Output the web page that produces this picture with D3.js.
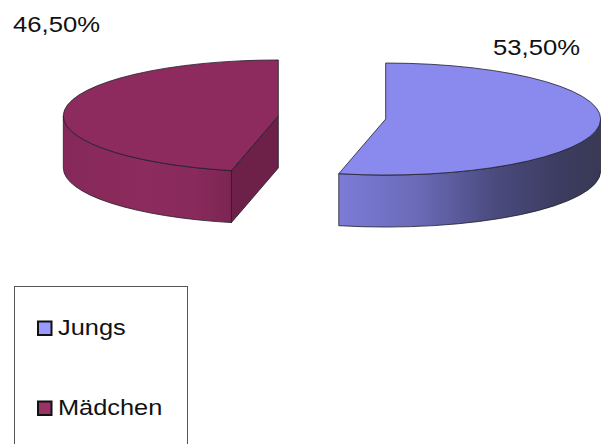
<!DOCTYPE html>
<html><head><meta charset="utf-8">
<script src="https://cdn.jsdelivr.net/npm/d3@7"></script>
<style>html,body{margin:0;padding:0;background:#fff;} svg{display:block;font-family:"Liberation Sans",Arial,sans-serif;}</style>
</head><body>
<script>
const categories = ["Jungs", "Mädchen"];
const values = [53.5, 46.5];
const labels = ["53,50%", "46,50%"];
const topColors = ["#8a8aee", "#8e2b5e"];
const legendColors = ["#9999ff", "#993366"];

const W = 601, H = 444;
const svg = d3.select("body").append("svg").attr("width", W).attr("height", H);
const defs = svg.append("defs");

const cx = 332, cy = 117.5, rx = 215, ry = 56, depth = 52, explode = 54;

const pie = d3.pie().sort(null).value(d => d)(values);

function pt(c, a, dy = 0) { return [c[0] + rx * Math.sin(a), c[1] - ry * Math.cos(a) + dy]; }

const g0 = defs.append("linearGradient").attr("id", "side0").attr("gradientUnits", "userSpaceOnUse")
  .attr("x1", 339).attr("x2", 600).attr("y1", 0).attr("y2", 0);
[[0, "#7c7cd8"], [0.3, "#6a6ab8"], [0.6, "#4a4a7e"], [0.85, "#3c3c60"], [1, "#393956"]]
  .forEach(s => g0.append("stop").attr("offset", s[0]).attr("stop-color", s[1]));
const g1 = defs.append("linearGradient").attr("id", "side1").attr("gradientUnits", "userSpaceOnUse")
  .attr("x1", 59).attr("x2", 231).attr("y1", 0).attr("y2", 0);
[[0, "#852858"], [0.5, "#8c2c5e"], [0.8, "#882a5b"], [1, "#7c2552"]]
  .forEach(s => g1.append("stop").attr("offset", s[0]).attr("stop-color", s[1]));
const sideFills = ["url(#side0)", "url(#side1)"];
const radFills = ["#3a3a5e", "#6e2148"];

const stroke = "#1e1e2a", sw = 0.8;
const chart = svg.append("g");

pie.forEach((d, i) => {
  const mid = (d.startAngle + d.endAngle) / 2;
  const c = [cx + explode * Math.sin(mid), cy - explode * Math.cos(mid) * ry / rx];
  const s = d.startAngle, e = d.endAngle;
  const g = chart.append("g");
  if (Math.sin(s) < 0) {
    const p = pt(c, s);
    g.append("path").attr("d", `M${c[0]},${c[1]}L${p[0]},${p[1]}L${p[0]},${p[1] + depth}L${c[0]},${c[1] + depth}Z`)
      .attr("fill", radFills[i]).attr("stroke", stroke).attr("stroke-width", sw);
  }
  if (Math.sin(e) > 0) {
    const p = pt(c, e);
    g.append("path").attr("d", `M${c[0]},${c[1]}L${p[0]},${p[1]}L${p[0]},${p[1] + depth}L${c[0]},${c[1] + depth}Z`)
      .attr("fill", radFills[i]).attr("stroke", stroke).attr("stroke-width", sw);
  }
  const a1 = Math.max(s, Math.PI / 2), a2 = Math.min(e, 3 * Math.PI / 2);
  if (a2 > a1) {
    const p1 = pt(c, a1), p2 = pt(c, a2);
    const large = (a2 - a1) > Math.PI ? 1 : 0;
    g.append("path").attr("d",
      `M${p1[0]},${p1[1]}A${rx},${ry} 0 ${large} 1 ${p2[0]},${p2[1]}L${p2[0]},${p2[1] + depth}` +
      `A${rx},${ry} 0 ${large} 0 ${p1[0]},${p1[1] + depth}Z`)
      .attr("fill", sideFills[i]).attr("stroke", stroke).attr("stroke-width", sw);
  }
  const ps = pt(c, s), pe = pt(c, e);
  const large = (e - s) > Math.PI ? 1 : 0;
  g.append("path").attr("d", `M${c[0]},${c[1]}L${ps[0]},${ps[1]}A${rx},${ry} 0 ${large} 1 ${pe[0]},${pe[1]}Z`)
    .attr("fill", topColors[i]).attr("stroke", stroke).attr("stroke-width", sw).attr("stroke-linejoin", "round");
});

const labelPos = [[493, 55], [13, 32]];
labels.forEach((t, i) => {
  svg.append("text").attr("transform", `translate(${labelPos[i][0]},${labelPos[i][1]}) scale(1.14,1)`)
    .attr("font-size", 22.5).attr("fill", "#111").text(t);
});

const lg = svg.append("g");
lg.append("rect").attr("x", 14.5).attr("y", 286.5).attr("width", 173).attr("height", 170)
  .attr("fill", "#fff").attr("stroke", "#555").attr("stroke-width", 1);
const ly = d3.scalePoint().domain(categories).range([335, 415]);
categories.forEach((cat, i) => {
  const y = ly(cat);
  lg.append("rect").attr("x", 38).attr("y", y - 13.5).attr("width", 13.5).attr("height", 13.5)
    .attr("fill", legendColors[i]).attr("stroke", "#111").attr("stroke-width", 2);
  lg.append("text").attr("transform", `translate(58,${y}) scale(1.18,1)`)
    .attr("font-size", 21.5).attr("fill", "#111").text(cat);
});
</script>
</body></html>
